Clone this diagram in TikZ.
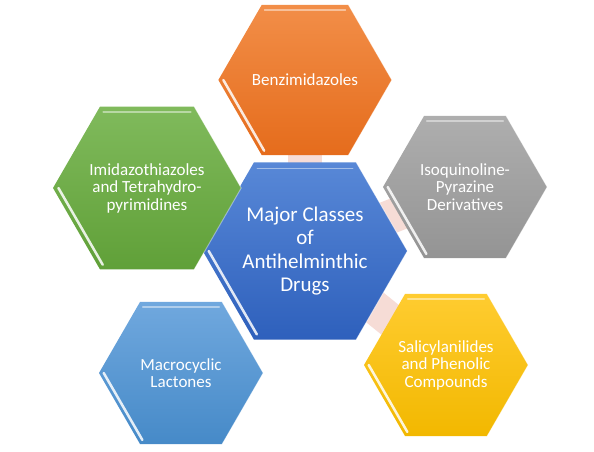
\documentclass[tikz,border=0pt]{standalone}
\usepackage{fontspec}
\setmainfont{Carlito}
\usetikzlibrary{calc,shapes.geometric,backgrounds}
\definecolor{cenA}{RGB}{88,136,215}
\definecolor{cenB}{RGB}{46,96,188}
\definecolor{oraA}{RGB}{242,142,72}
\definecolor{oraB}{RGB}{229,108,28}
\definecolor{gryA}{RGB}{174,174,174}
\definecolor{gryB}{RGB}{148,148,148}
\definecolor{grnA}{RGB}{128,186,92}
\definecolor{grnB}{RGB}{96,160,56}
\definecolor{lbuA}{RGB}{112,168,222}
\definecolor{lbuB}{RGB}{70,138,200}
\definecolor{ylwA}{RGB}{255,204,48}
\definecolor{ylwB}{RGB}{242,184,0}
\definecolor{pinkband}{RGB}{246,220,214}
\tikzstyle{hexa}=[shape=regular polygon, regular polygon sides=6, inner sep=0, minimum size=164pt, text=white, align=center, font=\fontsize{17}{17.5}\selectfont]
\tikzstyle{bond}=[line width=34pt, draw=pinkband]
\tikzstyle{shine}=[white, line width=2.5pt, opacity=.85, line cap=round]
\tikzstyle{gloss}=[white, line width=1.5pt, opacity=.45, line cap=round]
\tikzstyle{rim}=[white, line width=1pt, opacity=.4, line join=round]

\begin{document}
\begin{tikzpicture}[x=1pt, y=1pt]
\useasboundingbox (0,0) rectangle (594,452);
\node at (305,201)[hexa, minimum size=196pt, top color=cenA, bottom color=cenB, font=\fontsize{21}{23.5}\selectfont](cen){Major Classes\\of\\Antihelminthic\\Drugs};
\node at (305,372)[hexa, top color=oraA, bottom color=oraB](benz){Benzimidazoles};
\node at (147,264)[hexa, top color=grnA, bottom color=grnB](imid){Imidazothiazoles\\and Tetrahydro-\\pyrimidines};
\node at (465,265)[hexa, top color=gryA, bottom color=gryB](isoq){Isoquinoline-\\Pyrazine\\Derivatives};
\node at (181,79)[hexa, top color=lbuA, bottom color=lbuB](macro){Macrocyclic\\Lactones};
\node at (446,87)[hexa, top color=ylwA, bottom color=ylwB](sali){Salicylanilides\\and Phenolic\\Compounds};
\begin{pgfonlayer}{background}
\foreach \x in {benz,imid,isoq,sali} {\draw[bond] (cen.center)--(\x.center);}
\end{pgfonlayer}
\foreach \h in {cen,benz,imid,isoq,macro,sali} {
\draw[rim] (\h.corner 1)--(\h.corner 6)--(\h.corner 5);
\draw[gloss] ($(\h.corner 1)!.07!(\h.center)$)--($(\h.corner 2)!.07!(\h.center)$);
\draw[shine] ($(\h.corner 3)!.06!(\h.center)$)--($(\h.corner 4)!.06!(\h.center)$);
}
\end{tikzpicture}
\end{document}
